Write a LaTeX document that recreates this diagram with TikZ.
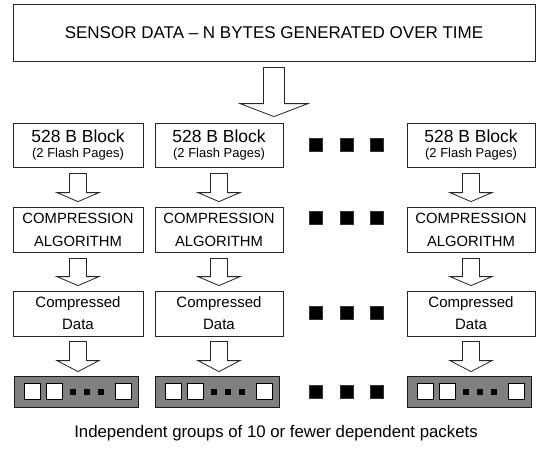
\documentclass[tikz,border=0pt]{standalone}
\usepackage{fontspec}
\setmainfont{Liberation Sans}
\usetikzlibrary{calc}
\newcommand\fatarrow[5]{%
  \draw[fat] let \p1=#1, \p2=#2 in
  (\x1-#3pt,\y1) -- (\x1+#3pt,\y1) -- (\x1+#3pt,\y2+#5pt) -- (\x1+#4pt,\y2+#5pt)
  -- (\x1,\y2) -- (\x1-#4pt,\y2+#5pt) -- (\x1-#3pt,\y2+#5pt) -- cycle;}
\begin{document}
\begin{tikzpicture}[x=1pt,y=-1pt,
  box/.style={draw=black!85, line width=0.8pt, inner sep=0pt, align=center, fill=white},
  fat/.style={draw=black!85, line width=0.8pt, fill=white, line join=miter},
  bigdot/.style={fill=black, draw=black!80, line width=0.4pt, minimum size=13pt, inner sep=0pt},
  bar/.style={fill=black!50, draw=black!90, line width=0.8pt, minimum width=124pt, minimum height=31pt, inner sep=0pt},
  cell/.style={fill=white, draw=black, line width=0.8pt, minimum size=16pt, inner sep=0pt},
  smalldot/.style={fill=black, minimum size=6pt, inner sep=0pt},
  capfont/.style={font=\fontsize{16.8}{19}\selectfont}]
\useasboundingbox (0,0) rectangle (536,450);

\node[box, minimum width=522pt, minimum height=57pt, font=\fontsize{17}{20}\selectfont] (top) at (274,32.5)
  {SENSOR DATA – N BYTES GENERATED OVER TIME};

\foreach \i/\cx/\w in {1/78/130, 2/219/128, 3/471/128} {
  \node[box, minimum width=\w pt, minimum height=44pt] (a\i) at (\cx,145)
    {\fontsize{17.5}{19}\selectfont 528 B Block\\[3pt]\fontsize{13}{15}\selectfont (2 Flash Pages)};
  \node[box, minimum width=\w pt, minimum height=45pt, font=\fontsize{14.8}{23}\selectfont] (b\i) at (\cx,229.5)
    {COMPRESSION\\ALGORITHM};
  \node[box, minimum width=\w pt, minimum height=45pt, font=\fontsize{15}{22}\selectfont] (c\i) at (\cx,313.5)
    {Compressed\\Data};
  \node[bar] (p\i) at (\cx-2,391.5) {};
  \node[cell] (p\i s1) at ($(p\i.center)+(-44,0)$) {};
  \node[cell] (p\i s2) at ($(p\i.center)+(-22,0)$) {};
  \node[smalldot] (p\i d1) at ($(p\i.center)+(-3,0)$) {};
  \node[smalldot] (p\i d2) at ($(p\i.center)+(11,0)$) {};
  \node[smalldot] (p\i d3) at ($(p\i.center)+(25,0)$) {};
  \node[cell] (p\i s3) at ($(p\i.center)+(47,0)$) {};
  \fatarrow{($(a\i.south)+(0,6)$)}{($(b\i.north)+(0,-5)$)}{8.5}{21}{9}
  \fatarrow{($(b\i.south)+(0,6)$)}{($(c\i.north)+(0,-5)$)}{8.5}{21}{9}
  \fatarrow{($(c\i.south)+(0,5)$)}{($(p\i.north)+(0,-4)$)}{8.5}{21}{11}
}

\coordinate (toptip) at ($(top.south |- a1.north)+(0,-6)$);
\fatarrow{($(top.south)+(0,6)$)}{(toptip)}{10.5}{34}{13}

\foreach \r/\y in {1/145, 2/218, 3/313, 4/392} {
  \node[bigdot] (g\r a) at (315.5,\y) {};
  \node[bigdot] (g\r b) at (346.5,\y) {};
  \node[bigdot] (g\r c) at (376.5,\y) {};
}

\node[capfont] (cap) at (276,433) {Independent groups of 10 or fewer dependent packets};
\end{tikzpicture}
\end{document}
